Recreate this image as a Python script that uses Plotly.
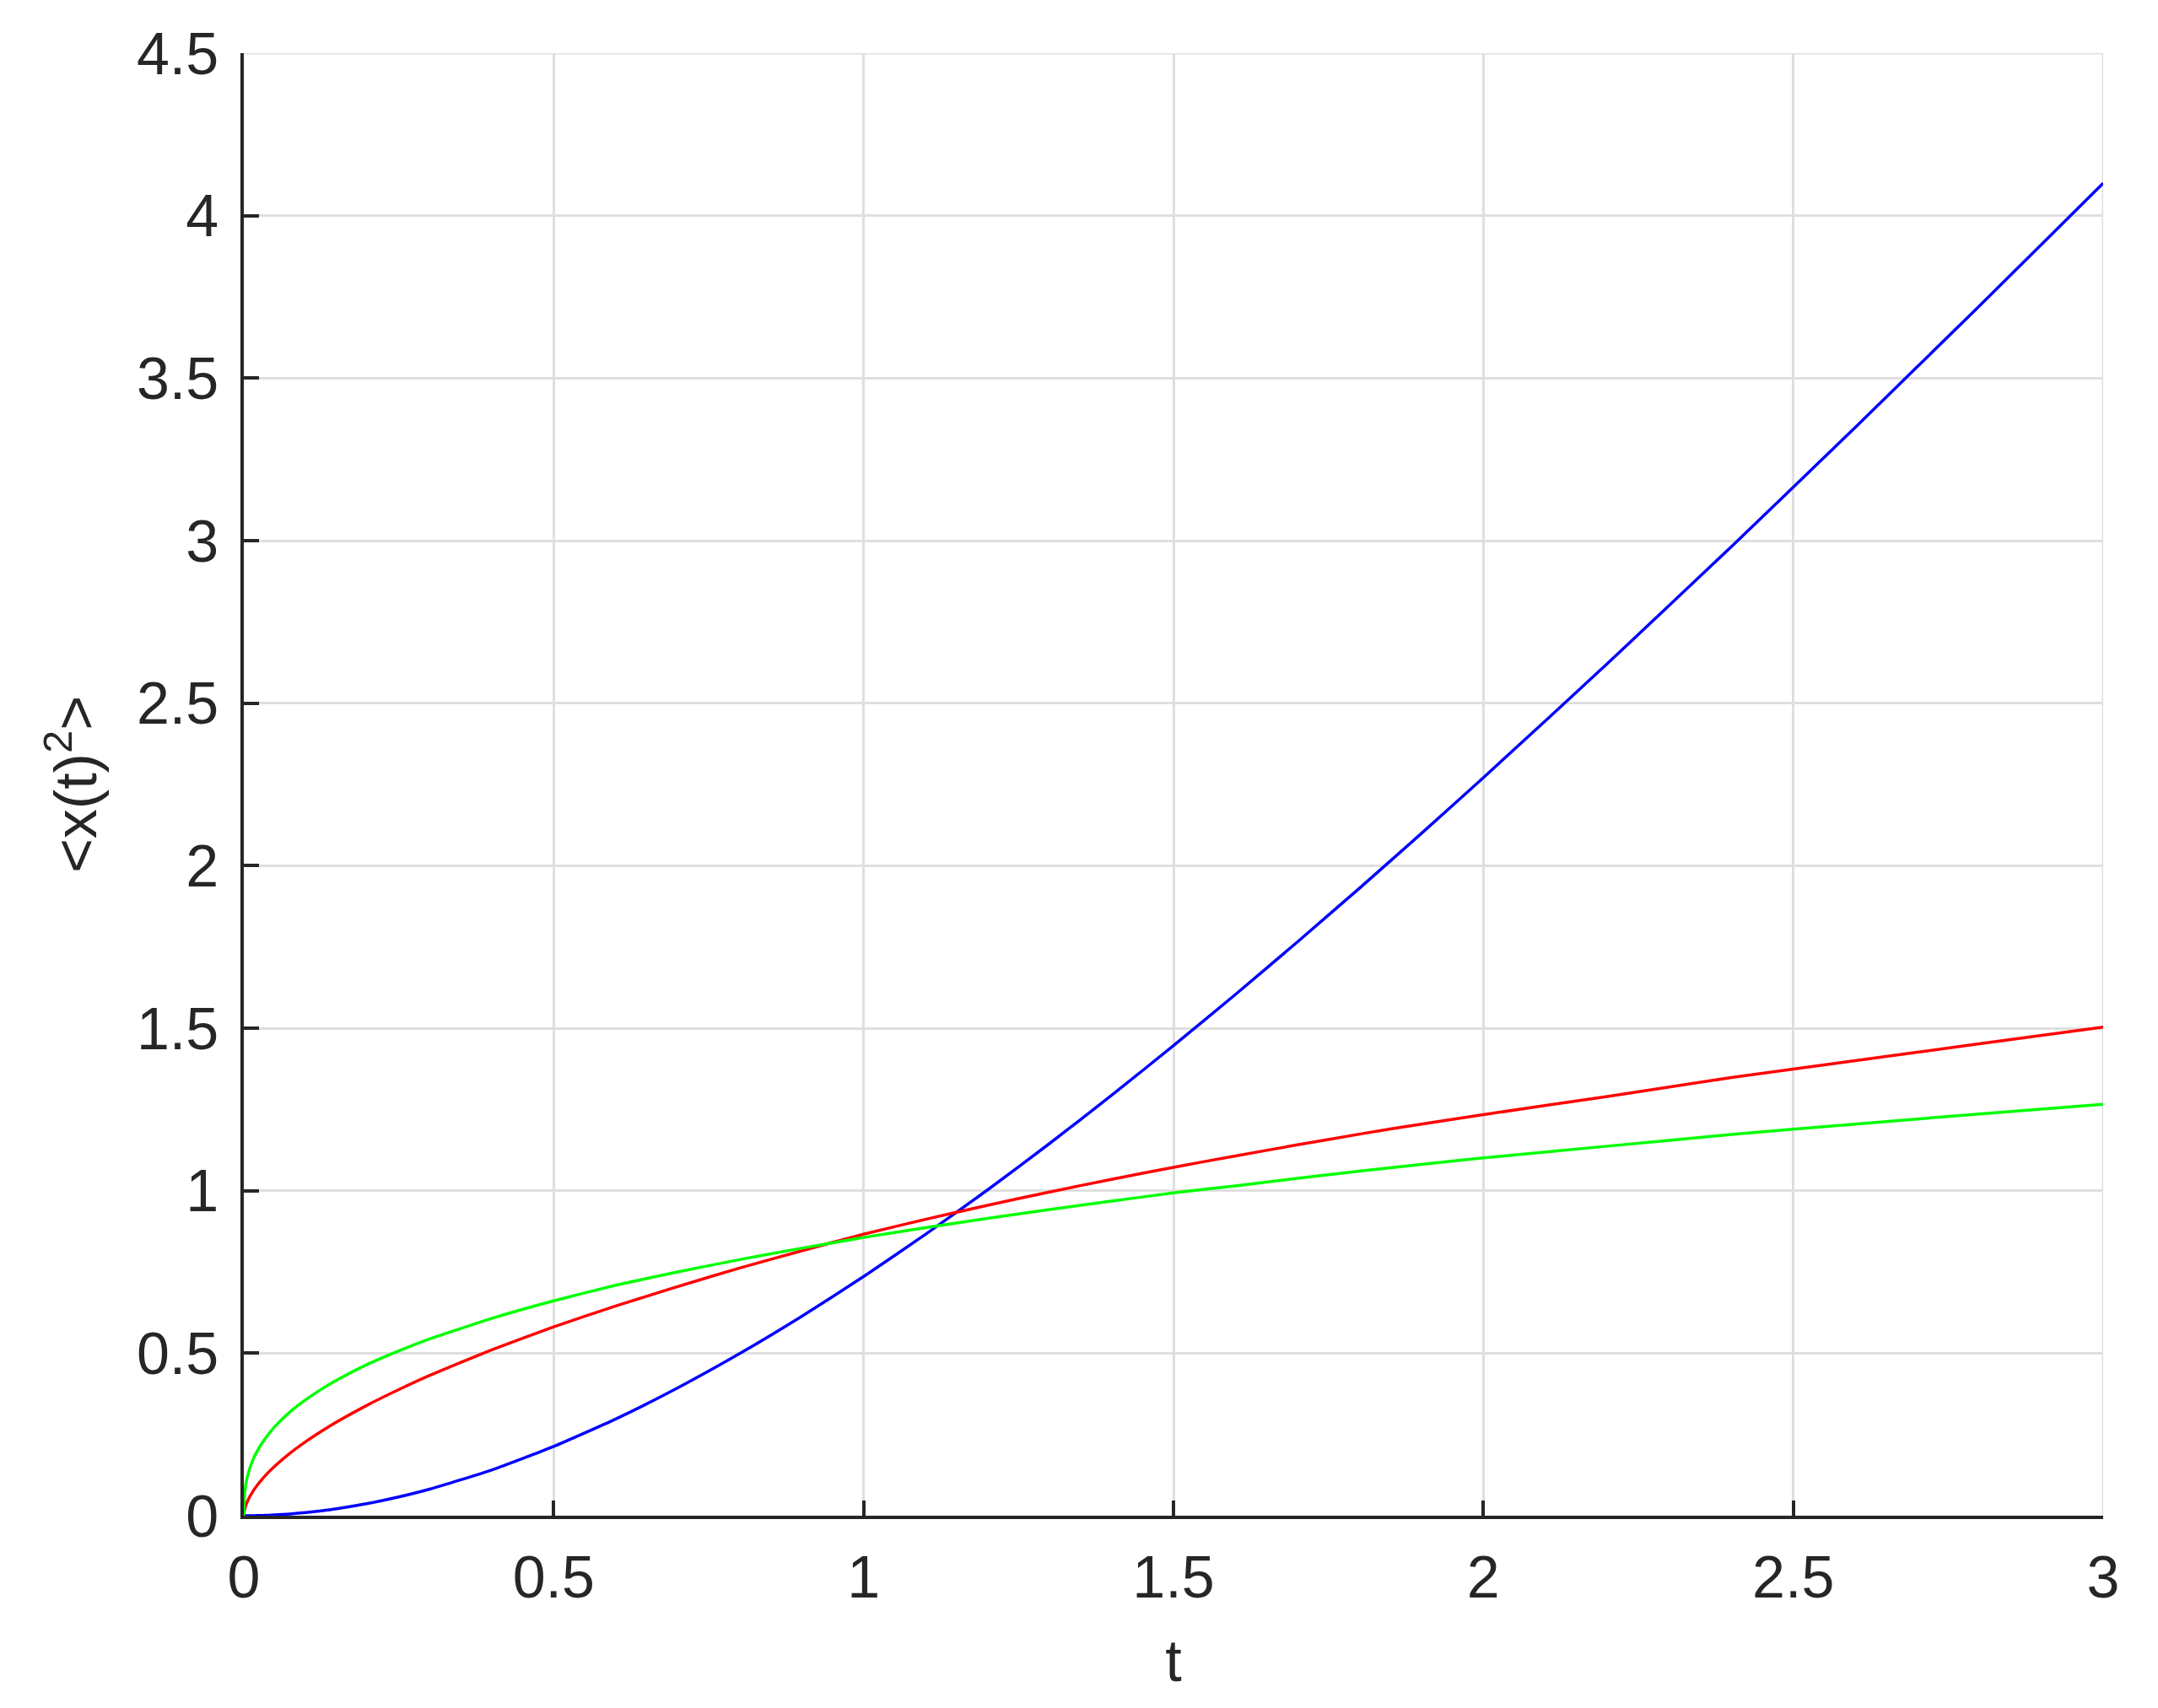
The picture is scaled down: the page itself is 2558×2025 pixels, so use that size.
import plotly.graph_objects as go

# time values
t = [0, 0.001, 0.002, 0.0035, 0.005, 0.0075, 0.01, 0.015, 0.02, 0.03, 0.04, 0.05,
     0.075, 0.1, 0.125, 0.15, 0.2, 0.25, 0.3, 0.4, 0.5,
     0.6, 0.7, 0.8, 0.9, 1.0, 1.1, 1.2, 1.3, 1.4, 1.5, 1.6, 1.7, 1.8, 1.9, 2.0,
     2.2, 2.4, 2.6, 2.8, 3.0]

# <x(t)^2>
msd_blue = [0, 0.000001, 0.000004, 0.000012, 0.00003, 0.00006, 0.0001, 0.0002, 0.0004,
            0.0009, 0.0016, 0.0025, 0.0055, 0.0097, 0.0150, 0.0214, 0.0375,
            0.0576, 0.0816, 0.1406, 0.2131, 0.2976, 0.3932, 0.4987, 0.6131, 0.7358,
            0.8657, 1.0024, 1.1451, 1.2932, 1.4463, 1.6038, 1.7654, 1.9306, 2.0991,
            2.2707, 2.6216, 2.9814, 3.3485, 3.7216, 4.0996]
msd_red = [0, 0.0157, 0.0235, 0.0325, 0.0400, 0.0506, 0.0598, 0.0757, 0.0895, 0.1133,
           0.1339, 0.1524, 0.1929, 0.228, 0.2595, 0.2886, 0.341, 0.388,
           0.4317, 0.510, 0.581, 0.645, 0.705, 0.762, 0.815, 0.866, 0.912, 0.955,
           0.996, 1.035, 1.072, 1.107, 1.141, 1.174, 1.205, 1.234, 1.290, 1.348,
           1.400, 1.452, 1.503]
msd_green = [0, 0.061, 0.080, 0.099, 0.113, 0.132, 0.148, 0.173, 0.193, 0.225, 0.251,
             0.274, 0.320, 0.357, 0.389, 0.417, 0.466, 0.507,
             0.544, 0.607, 0.661, 0.709, 0.750, 0.788, 0.823, 0.856, 0.886, 0.915,
             0.942, 0.968, 0.993, 1.015, 1.038, 1.060, 1.081, 1.101, 1.137, 1.173,
             1.205, 1.236, 1.266]

x_ticks = [0, 0.5, 1, 1.5, 2, 2.5, 3]
y_ticks = [0, 0.5, 1, 1.5, 2, 2.5, 3, 3.5, 4, 4.5]

AX = "#262626"
GRID = "#dfdfdf"
FONT = "Liberation Sans, Arial, Helvetica, sans-serif"

fig = go.Figure()
for ys, col in [(msd_blue, "#0000ff"), (msd_red, "#ff0000"), (msd_green, "#00ff00")]:
    fig.add_trace(go.Scatter(x=t, y=ys, mode="lines",
                             line=dict(color=col, width=3.5, shape="spline", smoothing=0.5),
                             cliponaxis=False, showlegend=False, hoverinfo="skip"))

# light boundary lines (top / right) like the reference
fig.add_shape(type="line", xref="x", yref="y", x0=x_ticks[0], x1=x_ticks[-1],
              y0=y_ticks[-1], y1=y_ticks[-1], line=dict(color=GRID, width=3), layer="below")
fig.add_shape(type="line", xref="x", yref="y", x0=x_ticks[-1], x1=x_ticks[-1],
              y0=y_ticks[0], y1=y_ticks[-1], line=dict(color=GRID, width=3), layer="below")

fig.update_layout(
    width=2558, height=2025,
    margin=dict(l=281, r=73, t=55, b=236, autoexpand=False),
    paper_bgcolor="white", plot_bgcolor="white",
    font=dict(family=FONT, size=70, color=AX),
)
fig.update_xaxes(
    range=[x_ticks[0], x_ticks[-1]], tickvals=x_ticks, ticks="inside", ticklen=18,
    tickwidth=3.5, tickcolor=AX, showline=True, linecolor=AX, linewidth=3.5,
    showgrid=True, gridcolor=GRID, gridwidth=3, zeroline=False,
    tickfont=dict(family=FONT, size=70, color=AX), ticklabelstandoff=9,
    title=dict(text="t", font=dict(family=FONT, size=70, color=AX), standoff=37),
    layer="below traces",
)
fig.update_yaxes(
    range=[y_ticks[0], y_ticks[-1]], tickvals=y_ticks, ticks="inside", ticklen=18,
    tickwidth=3.5, tickcolor=AX, showline=True, linecolor=AX, linewidth=3.5,
    showgrid=True, gridcolor=GRID, gridwidth=3, zeroline=False,
    tickfont=dict(family=FONT, size=70, color=AX), ticklabelstandoff=12,
    title=dict(text="&lt;x(t)<sup>2</sup>&gt;", font=dict(family=FONT, size=70, color=AX),
               standoff=25),
    layer="below traces",
)

fig.write_html("out.html")
